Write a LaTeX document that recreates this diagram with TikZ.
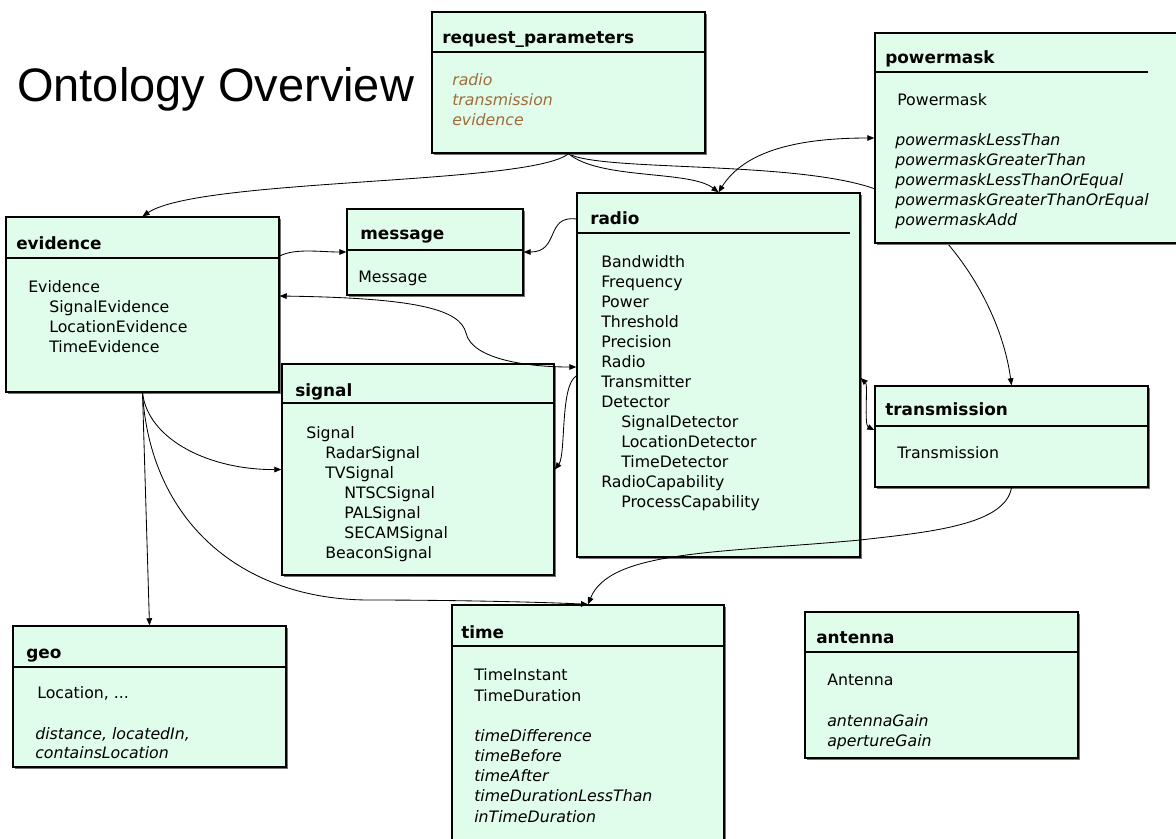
\documentclass[tikz,border=0pt]{standalone}
\usepackage{fontspec}
\setmainfont{DejaVu Sans}
\newfontfamily\titlefont{Liberation Sans}
\usetikzlibrary{arrows.meta, shadows, fit, backgrounds}

\definecolor{mint}{RGB}{224,252,234}
\definecolor{attrbrown}{RGB}{160,108,58}
\newcommand\boxheadfont{\fontsize{12pt}{14pt}\selectfont\bfseries}
\newcommand\boxitemfont{\fontsize{11.2pt}{13pt}\selectfont}

\begin{document}
\begin{tikzpicture}[
        x=0.025cm, y=-0.025cm,
        umlbox/.style={draw, line width=1pt, fill=mint, inner sep=0pt, drop shadow={shadow xshift=0.06cm, shadow yshift=-0.06cm, fill=black!55, opacity=1}},
        hline/.style={line width=0.9pt},
        boxhead/.style={font=\boxheadfont, anchor=base west, inner sep=0pt},
        item/.style={font=\boxitemfont, anchor=base west, inner sep=0pt},
        op/.style={item, font=\boxitemfont\itshape},
        conn/.style={-{Triangle[length=5pt, width=4pt]}, line width=0.6pt},
        biconn/.style={{Triangle[length=5pt, width=4pt]}-{Triangle[length=5pt, width=4pt]}, line width=0.6pt}
    ]
    \useasboundingbox (0,0) rectangle (1176,838);

    \node[font=\titlefont\fontsize{33.4pt}{36pt}\selectfont, anchor=base west, inner sep=0pt] (title) at (17,101) {Ontology Overview};

    % request_parameters
    \node[umlbox, fit={(432,12) (705,153)}] (reqp) {};
    \draw[hline] (reqp.west |- 0,52) -- (reqp.east |- 0,52);
    \node[boxhead] (reqp-h) at (442,43) {request\_parameters};
    \foreach \t [count=\i from 0] in {radio, transmission, evidence}
        \node[op, text=attrbrown] (reqp-\i) at (452,85+20*\i) {\t};

    % powermask
    \node[umlbox, fit={(875,33) (1195,243)}] (pmask) {};
    \draw[hline] (pmask.west |- 0,72) -- (1148,72);
    \node[boxhead] (pmask-h) at (885,63) {powermask};
    \node[item] (pmask-0) at (897,105) {Powermask};
    \foreach \t [count=\i from 1] in {powermaskLessThan, powermaskGreaterThan, powermaskLessThanOrEqual, powermaskGreaterThanOrEqual, powermaskAdd}
        \node[op] (pmask-\i) at (895,125+20*\i) {\t};

    % evidence
    \node[umlbox, fit={(6,217) (279,392)}] (evid) {};
    \draw[hline] (evid.west |- 0,258) -- (evid.east |- 0,258);
    \node[boxhead] (evid-h) at (16,249) {evidence};
    \foreach \dx/\t [count=\i from 0] in {0/Evidence, 21/SignalEvidence, 21/LocationEvidence, 21/TimeEvidence}
        \node[item] (evid-\i) at (28+\dx,292+20*\i) {\t};

    % message
    \node[umlbox, fit={(347,209) (523,295)}] (msg) {};
    \draw[hline] (msg.west |- 0,250) -- (msg.east |- 0,250);
    \node[boxhead] (msg-h) at (360,239) {message};
    \node[item] (msg-0) at (358,282) {Message};

    % radio
    \node[umlbox, fit={(577,193) (860,557)}] (radio) {};
    \draw[hline] (radio.west |- 0,233) -- (850,233);
    \node[boxhead] (radio-h) at (590,224) {radio};
    \foreach \dx/\t [count=\i from 0] in {0/Bandwidth, 0/Frequency, 0/Power, 0/Threshold, 0/Precision, 0/Radio, 0/Transmitter, 0/Detector, 20/SignalDetector, 20/LocationDetector, 20/TimeDetector, 0/RadioCapability, 20/ProcessCapability}
        \node[item] (radio-\i) at (601+\dx,267+20*\i) {\t};

    % signal
    \node[umlbox, fit={(282,364) (554,575)}] (signal) {};
    \draw[hline] (signal.west |- 0,403) -- (signal.east |- 0,403);
    \node[boxhead] (signal-h) at (295,396) {signal};
    \foreach \dx/\t [count=\i from 0] in {0/Signal, 19/RadarSignal, 19/TVSignal, 38/NTSCSignal, 38/PALSignal, 38/SECAMSignal, 19/BeaconSignal}
        \node[item] (signal-\i) at (306+\dx,438+20*\i) {\t};

    % transmission
    \node[umlbox, fit={(875,386) (1148,487)}] (trans) {};
    \draw[hline] (trans.west |- 0,426) -- (trans.east |- 0,426);
    \node[boxhead] (trans-h) at (885,415) {transmission};
    \node[item] (trans-0) at (897,458) {Transmission};

    % geo
    \node[umlbox, fit={(13,626) (286,767)}] (geo) {};
    \draw[hline] (geo.west |- 0,667) -- (geo.east |- 0,667);
    \node[boxhead] (geo-h) at (26,658) {geo};
    \node[item] (geo-0) at (37,698) {Location, ...};
    \node[op] (geo-1) at (35,739) {distance, locatedIn,};
    \node[op] (geo-2) at (35,758) {containsLocation};

    % time
    \node[umlbox, fit={(452,605) (724,860)}] (time) {};
    \draw[hline] (time.west |- 0,646) -- (time.east |- 0,646);
    \node[boxhead] (time-h) at (461,638) {time};
    \node[item] (time-0) at (474,680) {TimeInstant};
    \node[item] (time-1) at (474,701) {TimeDuration};
    \foreach \t [count=\i from 2] in {timeDifference, timeBefore, timeAfter, timeDurationLessThan, inTimeDuration}
        \node[op] (time-\i) at (474,700.4+20.3*\i) {\t};

    % antenna
    \node[umlbox, fit={(805,612) (1078,758)}] (ant) {};
    \draw[hline] (ant.west |- 0,652) -- (ant.east |- 0,652);
    \node[boxhead] (ant-h) at (816,643) {antenna};
    \node[item] (ant-0) at (827,685) {Antenna};
    \node[op] (ant-1) at (827,726) {antennaGain};
    \node[op] (ant-2) at (827,746) {apertureGain};

    % links; the one to transmission runs behind powermask
    \begin{pgfonlayer}{background}
        \fill[white] (0,0) rectangle (1176,838);
        \draw[conn] (reqp.south) .. controls (600,172) and (800,160) .. (878,190) .. controls (940,215) and (1000,300) .. (trans.north);
    \end{pgfonlayer}

    \draw[conn] (reqp.south) .. controls (530,185) and (200,178) .. (evid.north);
    \draw[conn] (reqp.south) .. controls (600,180) and (690,170) .. (radio.north);
    \draw[biconn] (radio.north) .. controls (745,150) and (800,138) .. (pmask.west |- 0,138);
    \draw[conn] (evid.east |- 0,256) .. controls (295,248) and (320,252) .. (msg.west);
    \draw[conn] (radio.west |- 0,219) .. controls (545,215) and (560,252) .. (msg.east);
    \draw[biconn] (evid.east |- 0,296) .. controls (420,298) and (460,310) .. (466,333) .. controls (472,360) and (530,367) .. (radio.west |- 0,367);
    \draw[conn] (radio.west |- 0,376) .. controls (560,385) and (566,455) .. (signal.east);
    \draw[biconn] (radio.east |- 0,378) .. controls (868,385) and (864,425) .. (trans.west |- 0,430);
    \draw[conn] (evid.south) -- (geo.north);
    \draw[conn] (evid.south) .. controls (148,440) and (210,470) .. (signal.west);
    \draw[conn] (evid.south) .. controls (150,520) and (240,600) .. (370,600) .. controls (450,600) and (540,602) .. (time.north);
    \draw[conn] (trans.south) .. controls (1005,525) and (930,532) .. (860,540) .. controls (720,553) and (610,550) .. (time.north);

\end{tikzpicture}
\end{document}
